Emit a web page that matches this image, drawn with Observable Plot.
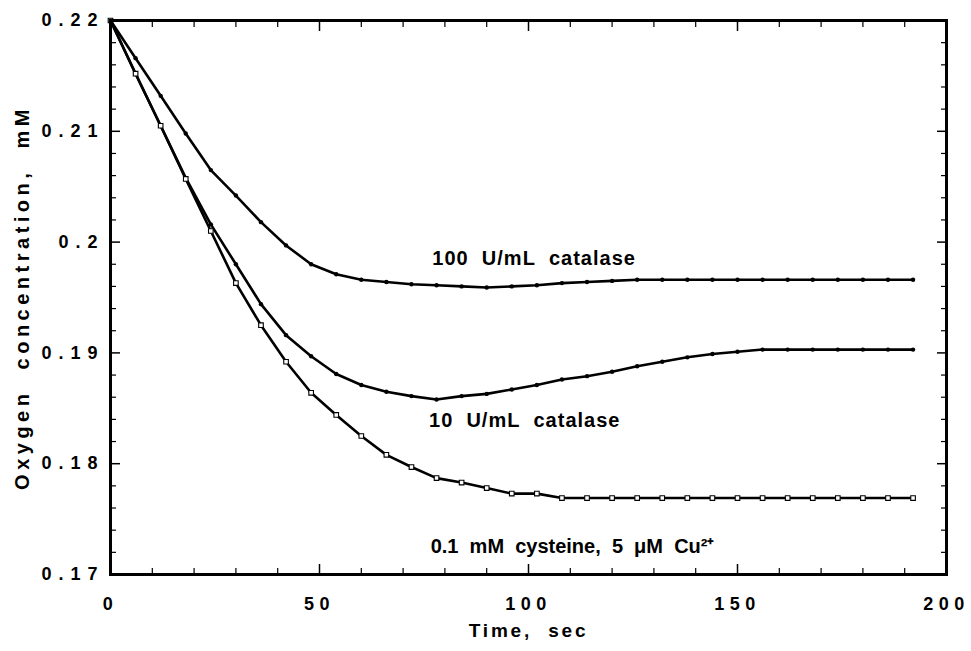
<!DOCTYPE html>
<html><head><meta charset="utf-8">
<script src="https://cdn.jsdelivr.net/npm/d3@7"></script>
<script src="https://cdn.jsdelivr.net/npm/@observablehq/plot@0.6"></script>
<style>
html,body{margin:0;padding:0;background:#fff;}
g[aria-label="y-axis tick label"] text {letter-spacing:7px;}
g[aria-label="x-axis tick label"] text {letter-spacing:5.5px;}
</style>
</head><body><div id="chart"></div>
<script>
const time = [0,6,12,18,24,30,36,42,48,54,60,66,72,78,84,90,96,102,108,114,120,126,132,138,144,150,156,162,168,174,180,186,192];
const cat100 = [0.2200,0.2166,0.2132,0.2098,0.2065,0.2042,0.2018,0.1997,0.1980,0.1971,0.1966,0.1964,0.1962,0.1961,0.1960,0.1959,0.1960,0.1961,0.1963,0.1964,0.1965,0.1966,0.1966,0.1966,0.1966,0.1966,0.1966,0.1966,0.1966,0.1966,0.1966,0.1966,0.1966];
const cat10 = [0.2200,0.2152,0.2105,0.2058,0.2016,0.1980,0.1944,0.1916,0.1897,0.1881,0.1871,0.1865,0.1861,0.1858,0.1861,0.1863,0.1867,0.1871,0.1876,0.1879,0.1883,0.1888,0.1892,0.1896,0.1899,0.1901,0.1903,0.1903,0.1903,0.1903,0.1903,0.1903,0.1903];
const cys = [0.2200,0.2152,0.2105,0.2057,0.2010,0.1963,0.1925,0.1892,0.1864,0.1844,0.1825,0.1808,0.1797,0.1787,0.1783,0.1778,0.1773,0.1773,0.1769,0.1769,0.1769,0.1769,0.1769,0.1769,0.1769,0.1769,0.1769,0.1769,0.1769,0.1769,0.1769,0.1769,0.1769];

const seriesNames = ["100 U/mL catalase", "10 U/mL catalase", "0.1 mM cysteine, 5 \u03bcM Cu\u00b2\u207a"];
const labelX = [77, 76.2, 76.6];
const labelY = [0.1985, 0.1839, 0.1725];

const xMajor = [0,50,100,150,200];
const xTickLabels = ["0","50","100","150","200"];
const xMinor = [10,20,30,40,60,70,80,90,110,120,130,140,160,170,180,190];
const yMajor = [0.17,0.18,0.19,0.2,0.21,0.22];
const yTickLabels = ["0.17","0.18","0.19","0.2","0.21","0.22"];
const yMinor = [0.172,0.174,0.176,0.178,0.182,0.184,0.186,0.188,0.192,0.194,0.196,0.198,0.202,0.204,0.206,0.208,0.212,0.214,0.216,0.218];
const xTitle = "Time, sec";
const yTitle = "Oxygen concentration, mM";

const wide = s => s.replace(/ /g, "\u00a0\u00a0");
const rows = (vals, s) => time.map((t, i) => ({t, v: vals[i], s}));
const data100 = rows(cat100, "100");
const data10 = rows(cat10, "10");
const dataCys = rows(cys, "cys");
const labels = seriesNames.map((n, i) => ({n: wide(n), x: labelX[i], y: labelY[i]}));

const chart = Plot.plot({
  width: 971, height: 651,
  marginLeft: 110, marginRight: 25, marginTop: 20, marginBottom: 77,
  style: {fontFamily: "'Liberation Sans', Arial, sans-serif", fontWeight: "bold", background: "white", color: "black"},
  x: {domain: [0, 200], axis: null},
  y: {domain: [0.17, 0.22], axis: null},
  marks: [
    Plot.axisX(xMajor, {anchor: "bottom", tickSize: -10, tickPadding: 33, strokeWidth: 1.5, fontSize: 18, label: null, tickFormat: d => xTickLabels[xMajor.indexOf(d)]}),
    Plot.axisX(xMinor, {anchor: "bottom", tickSize: -6, strokeWidth: 1.2, fill: "none", label: null}),
    Plot.axisX(xMajor, {anchor: "top", tickSize: -10, strokeWidth: 1.5, fill: "none", label: null}),
    Plot.axisX(xMinor, {anchor: "top", tickSize: -6, strokeWidth: 1.2, fill: "none", label: null}),
    Plot.axisY(yMajor, {anchor: "left", tickSize: -10, tickPadding: 16, strokeWidth: 1.5, fontSize: 18, label: null, tickFormat: d => yTickLabels[yMajor.indexOf(d)]}),
    Plot.axisY(yMinor, {anchor: "left", tickSize: -6, strokeWidth: 1.2, fill: "none", label: null}),
    Plot.axisY(yMajor, {anchor: "right", tickSize: -10, strokeWidth: 1.5, fill: "none", label: null}),
    Plot.axisY(yMinor, {anchor: "right", tickSize: -6, strokeWidth: 1.2, fill: "none", label: null}),
    Plot.lineY(data100, {x: "t", y: "v", stroke: "black", strokeWidth: 2.6}),
    Plot.lineY(data10, {x: "t", y: "v", stroke: "black", strokeWidth: 2.6}),
    Plot.lineY(dataCys, {x: "t", y: "v", stroke: "black", strokeWidth: 2.6}),
    Plot.dot(data100, {x: "t", y: "v", r: 2.2, fill: "black"}),
    Plot.dot(data10, {x: "t", y: "v", r: 2.2, fill: "black"}),
    Plot.dot(dataCys, {x: "t", y: "v", symbol: "square", r: 2.6, fill: "white", stroke: "black", strokeWidth: 1.1}),
    Plot.text(labels, {x: "x", y: "y", text: "n", textAnchor: "start", fontSize: 20, fontWeight: "bold", fill: "black"}),
    Plot.text([wide(xTitle)], {text: d => d, frameAnchor: "bottom", textAnchor: "middle", dy: 62, fontSize: 19, fontWeight: "bold", fill: "black"}),
    Plot.text([wide(yTitle)], {text: d => d, frameAnchor: "left", textAnchor: "middle", dx: -88, rotate: -90, fontSize: 20, fontWeight: "bold", fill: "black"}),
    Plot.frame({stroke: "black", strokeWidth: 3})
  ]
});
const spacing = new Map([
  [wide(seriesNames[0]), "1px"],
  [wide(seriesNames[1]), "1px"],
  [wide(seriesNames[2]), "0px"],
  [wide(xTitle), "2.8px"],
  [wide(yTitle), "4.5px"]
]);
d3.select(chart).selectAll("text").each(function () {
  const ls = spacing.get(this.textContent);
  if (ls) d3.select(this).style("letter-spacing", ls);
});
document.getElementById("chart").appendChild(chart);
</script></body></html>
